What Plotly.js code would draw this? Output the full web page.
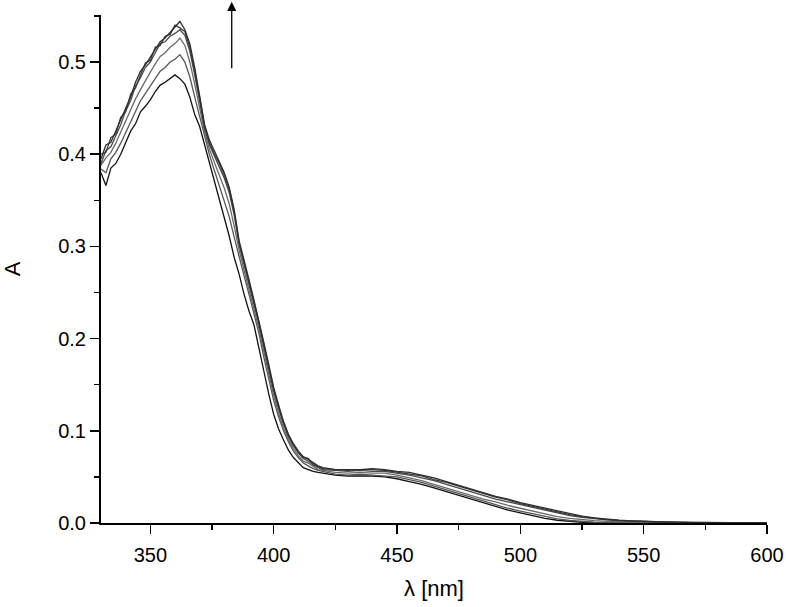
<!DOCTYPE html>
<html>
<head>
<meta charset="utf-8">
<script src="https://cdn.plot.ly/plotly-3.0.1.min.js"></script>
<style>
  html, body { margin: 0; padding: 0; background: #fff; }
  #plot { width: 786px; height: 607px; }
</style>
</head>
<body>
<div id="plot"></div>
<script>
// wavelength grid (nm)
const wavelength = [
  330, 332, 334, 336, 338, 340, 342, 344, 346, 348,
  350, 352, 354, 356, 358, 360, 362, 364, 366, 368,
  370, 372, 374, 376, 378, 380, 382, 384, 386, 388,
  390, 392, 394, 396, 398, 400, 402, 404, 406, 408,
  410, 412, 414, 416, 418, 420,
  425, 430, 435, 440, 445, 450, 455, 460, 465, 470,
  475, 480, 485, 490, 495, 500, 505, 510, 515, 520,
  525, 530, 535, 540, 545, 550, 555, 560, 565, 570,
  575, 580, 585, 590, 595, 600
];

// absorbance spectra, lowest first
const abs1 = [
  0.380, 0.366, 0.385, 0.390, 0.400, 0.413, 0.425, 0.433, 0.446, 0.452,
  0.459, 0.468, 0.475, 0.478, 0.482, 0.486, 0.482, 0.476, 0.462, 0.443,
  0.430, 0.410, 0.392, 0.372, 0.350, 0.330, 0.311, 0.288, 0.270, 0.248,
  0.230, 0.215, 0.190, 0.162, 0.140, 0.118, 0.102, 0.090, 0.079, 0.071,
  0.065, 0.060, 0.058, 0.056, 0.055, 0.054,
  0.052, 0.051, 0.051, 0.051, 0.050, 0.048, 0.045, 0.042, 0.038, 0.034,
  0.030, 0.026, 0.022, 0.018, 0.014, 0.011, 0.008, 0.005, 0.003, 0.0015,
  0.0008, 0.0004, 0.0002, 0.0001, 0.0001, 0.0001, 0.0001, 0.0001, 0.0001, 0.0001,
  0.0001, 0.0001, 0.0001, 0.0001, 0.0001, 0.0001
];
const abs2 = [
  0.384, 0.380, 0.395, 0.402, 0.412, 0.424, 0.436, 0.446, 0.458, 0.466,
  0.474, 0.482, 0.490, 0.494, 0.500, 0.503, 0.508, 0.500, 0.484, 0.462,
  0.440, 0.418, 0.399, 0.382, 0.366, 0.350, 0.332, 0.310, 0.288, 0.268,
  0.248, 0.228, 0.206, 0.180, 0.157, 0.133, 0.115, 0.100, 0.088, 0.078,
  0.071, 0.065, 0.062, 0.059, 0.057, 0.056,
  0.053, 0.052, 0.053, 0.052, 0.051, 0.050, 0.047, 0.044, 0.040, 0.036,
  0.032, 0.028, 0.024, 0.020, 0.016, 0.013, 0.010, 0.007, 0.0045, 0.0027,
  0.0015, 0.0008, 0.0005, 0.0003, 0.0002, 0.0002, 0.0001, 0.0001, 0.0001, 0.0001,
  0.0001, 0.0001, 0.0001, 0.0001, 0.0001, 0.0001
];
const abs3 = [
  0.388, 0.396, 0.402, 0.412, 0.424, 0.436, 0.448, 0.460, 0.470, 0.480,
  0.489, 0.498, 0.506, 0.510, 0.516, 0.520, 0.526, 0.518, 0.500, 0.476,
  0.450, 0.424, 0.405, 0.390, 0.377, 0.363, 0.346, 0.322, 0.296, 0.274,
  0.254, 0.233, 0.211, 0.186, 0.162, 0.138, 0.119, 0.103, 0.091, 0.081,
  0.073, 0.067, 0.065, 0.061, 0.058, 0.057,
  0.055, 0.054, 0.055, 0.054, 0.054, 0.052, 0.049, 0.046, 0.042, 0.038,
  0.034, 0.030, 0.026, 0.023, 0.019, 0.016, 0.013, 0.010, 0.007, 0.005,
  0.0035, 0.0025, 0.0018, 0.0012, 0.0009, 0.0007, 0.0005, 0.0004, 0.0003, 0.0003,
  0.0002, 0.0002, 0.0001, 0.0001, 0.0001, 0.0001
];
const abs4 = [
  0.390, 0.404, 0.408, 0.420, 0.432, 0.447, 0.458, 0.474, 0.483, 0.494,
  0.500, 0.510, 0.520, 0.522, 0.528, 0.531, 0.535, 0.529, 0.512, 0.486,
  0.458, 0.428, 0.410, 0.397, 0.386, 0.374, 0.358, 0.334, 0.302, 0.280,
  0.259, 0.237, 0.216, 0.191, 0.167, 0.143, 0.124, 0.107, 0.094, 0.084,
  0.076, 0.070, 0.067, 0.063, 0.060, 0.058,
  0.057, 0.056, 0.057, 0.056, 0.056, 0.054, 0.052, 0.049, 0.046, 0.042,
  0.038, 0.034, 0.030, 0.026, 0.023, 0.020, 0.017, 0.014, 0.011, 0.008,
  0.006, 0.0045, 0.0033, 0.0025, 0.0019, 0.0014, 0.0010, 0.0008, 0.0006, 0.0005,
  0.0004, 0.0003, 0.0003, 0.0002, 0.0002, 0.0001
];
const abs5 = [
  0.400, 0.402, 0.418, 0.422, 0.440, 0.446, 0.465, 0.472, 0.486, 0.499,
  0.502, 0.516, 0.518, 0.528, 0.530, 0.540, 0.537, 0.533, 0.516, 0.490,
  0.462, 0.430, 0.412, 0.400, 0.390, 0.377, 0.362, 0.337, 0.304, 0.283,
  0.262, 0.240, 0.218, 0.194, 0.170, 0.145, 0.126, 0.109, 0.095, 0.085,
  0.077, 0.071, 0.070, 0.064, 0.061, 0.059,
  0.058, 0.057, 0.058, 0.058, 0.057, 0.055, 0.053, 0.051, 0.047, 0.044,
  0.040, 0.036, 0.032, 0.028, 0.025, 0.021, 0.018, 0.015, 0.012, 0.009,
  0.007, 0.005, 0.0037, 0.0028, 0.0021, 0.0015, 0.0011, 0.0009, 0.0007, 0.0005,
  0.0004, 0.0003, 0.0003, 0.0002, 0.0002, 0.0001
];
const abs6 = [
  0.395, 0.410, 0.413, 0.425, 0.438, 0.450, 0.462, 0.478, 0.490, 0.497,
  0.505, 0.514, 0.522, 0.526, 0.532, 0.538, 0.544, 0.535, 0.520, 0.494,
  0.465, 0.432, 0.415, 0.403, 0.392, 0.380, 0.364, 0.340, 0.306, 0.286,
  0.264, 0.242, 0.220, 0.196, 0.172, 0.147, 0.128, 0.110, 0.096, 0.086,
  0.078, 0.072, 0.069, 0.065, 0.062, 0.060,
  0.058, 0.058, 0.058, 0.059, 0.058, 0.056, 0.055, 0.052, 0.049, 0.045,
  0.041, 0.037, 0.033, 0.029, 0.026, 0.022, 0.019, 0.016, 0.013, 0.010,
  0.0075, 0.0055, 0.004, 0.003, 0.0022, 0.0017, 0.0012, 0.0009, 0.0007, 0.0005,
  0.0004, 0.0003, 0.0002, 0.0002, 0.0001, 0.0001
];

const spectra = [abs1, abs2, abs3, abs4, abs5, abs6];
const lineColors = ['#111111', '#555555', '#6a6a6a', '#4a4a4a', '#3a3a3a', '#2e2e2e'];

const traces = spectra.map((ys, i) => ({
  x: wavelength,
  y: ys,
  type: 'scatter',
  mode: 'lines',
  line: { color: lineColors[i], width: 1.3 },
  hoverinfo: 'none',
  showlegend: false
}));

const fontFamily = 'Liberation Sans, Arial, sans-serif';

const layout = {
  width: 786,
  height: 607,
  margin: { l: 101, r: 19, t: 15, b: 84 },
  paper_bgcolor: '#fff',
  plot_bgcolor: '#fff',
  font: { family: fontFamily, size: 20, color: '#000' },
  xaxis: {
    range: [330, 600],
    tick0: 350,
    dtick: 50,
    ticks: 'outside',
    ticklen: 9,
    tickwidth: 1.5,
    tickcolor: '#000',
    ticklabelstandoff: 4,
    minor: { dtick: 25, tick0: 325, ticks: 'outside', ticklen: 5, tickwidth: 1.5, tickcolor: '#000' },
    showline: true,
    linewidth: 2,
    linecolor: '#000',
    showgrid: false,
    zeroline: false,
    tickfont: { size: 20 },
    title: { text: 'λ [nm]', font: { size: 22 }, standoff: 16 }
  },
  yaxis: {
    range: [0, 0.551],
    tick0: 0,
    dtick: 0.1,
    tickformat: '.1f',
    ticks: 'outside',
    ticklen: 9,
    tickwidth: 1.5,
    tickcolor: '#000',
    ticklabelstandoff: 0,
    minor: { dtick: 0.05, ticks: 'outside', ticklen: 5, tickwidth: 1.5, tickcolor: '#000' },
    showline: true,
    linewidth: 2,
    linecolor: '#000',
    showgrid: false,
    zeroline: false,
    tickfont: { size: 20 },
    title: { text: 'A', font: { size: 22 }, standoff: 34 }
  },
  // arrow showing the direction of change
  annotations: [{
    x: 383,
    xref: 'x',
    y: 1.026,
    yref: 'paper',
    text: '',
    showarrow: true,
    arrowhead: 2,
    arrowsize: 1.4,
    arrowwidth: 1.3,
    arrowcolor: '#000',
    ax: 0,
    ay: 68
  }]
};

Plotly.newPlot('plot', traces, layout, { displayModeBar: false, staticPlot: true });
</script>
</body>
</html>
